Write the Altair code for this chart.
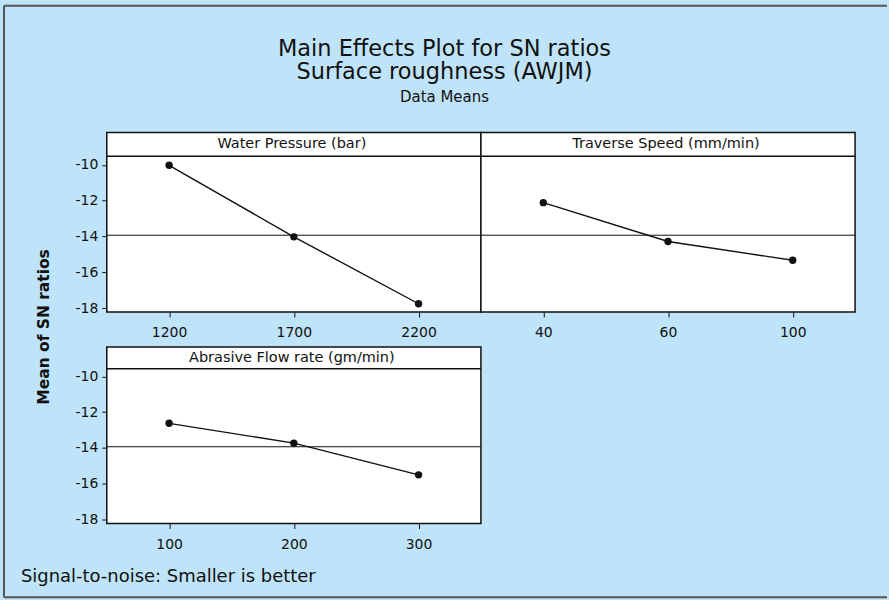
import altair as alt
import pandas as pd

# Main effects of the three AWJM factors on the SN ratio of surface roughness
factor_names = [
    "Water Pressure (bar)",
    "Traverse Speed (mm/min)",
    "Abrasive Flow rate (gm/min)",
]
pressure_levels = [1200, 1700, 2200]
pressure_sn = [-10.02, -14.02, -17.76]
speed_levels = [40, 60, 100]
speed_sn = [-12.11, -14.28, -15.33]
flow_levels = [100, 200, 300]
flow_sn = [-12.62, -13.73, -15.50]
y_ticks = [-10, -12, -14, -16, -18]

title_lines = ["Main Effects Plot for SN ratios", "Surface roughness (AWJM)"]
subtitle_text = "Data Means"
y_title_text = "Mean of SN ratios"
footnote_text = "Signal-to-noise: Smaller is better"

FONT = "DejaVu Sans"
BG = "#bfe3f9"
INK = "#111111"
PANEL_W = 375
PX_PER_UNIT = 17.93
Y_BOTTOM = -18.22

levels_by_factor = [pressure_levels, speed_levels, flow_levels]
sn_by_factor = [pressure_sn, speed_sn, flow_sn]

all_df = pd.concat(
    [
        pd.DataFrame({"factor": name, "level": lv, "sn": sn})
        for name, lv, sn in zip(factor_names, levels_by_factor, sn_by_factor)
    ],
    ignore_index=True,
)

one_row = pd.DataFrame({"k": [0]})


def label_text(text, x, y, size, **kw):
    return alt.Chart(one_row).mark_text(
        font=FONT, fontSize=size, color=INK, baseline="middle", **kw
    ).encode(text=alt.value(text), x=alt.value(x), y=alt.value(y))


def hedge(x, x2, y):
    return alt.Chart(one_row).mark_rule(color="#555555", strokeWidth=2).encode(
        x=alt.value(x), x2=alt.value(x2), y=alt.value(y)
    )


def vedge(x, y, y2):
    return alt.Chart(one_row).mark_rule(color="#555555", strokeWidth=2).encode(
        x=alt.value(x), y=alt.value(y), y2=alt.value(y2)
    )


def panel(idx, height, strip, show_y, extras=()):
    name = factor_names[idx]
    df = all_df[all_df["factor"] == name]
    y_scale = alt.Scale(
        domain=[Y_BOTTOM, Y_BOTTOM + height / PX_PER_UNIT], nice=False, zero=False
    )
    y_axis = (
        alt.Axis(
            values=y_ticks,
            title=None,
            grid=False,
            domain=False,
            tickSize=5,
            tickColor=INK,
            labelPadding=4,
            labelExpr="toString(datum.value)",
        )
        if show_y
        else None
    )
    x_enc = alt.X(
        "level:O",
        scale=alt.Scale(type="point", padding=0.5),
        axis=alt.Axis(
            title=None,
            labelAngle=0,
            grid=False,
            domain=False,
            tickSize=5,
            tickColor=INK,
            labelPadding=9,
        ),
    )
    y_enc = alt.Y("sn:Q", scale=y_scale, axis=y_axis)
    base = alt.Chart(df).encode(x=x_enc, y=y_enc)
    line = base.mark_line(color=INK, strokeWidth=1.4)
    pts = base.mark_point(filled=True, size=55, color=INK, opacity=1)
    grand_mean = alt.Chart(all_df).mark_rule(color=INK, strokeWidth=1).encode(
        y=alt.Y("mean(sn):Q", scale=y_scale, axis=y_axis)
    )
    strip_line = alt.Chart(one_row).mark_rule(color=INK, strokeWidth=1.5).encode(
        x=alt.value(0), x2=alt.value(PANEL_W), y=alt.value(strip)
    )
    strip_label = label_text(name, PANEL_W / 2 - 2, strip / 2, 14.5, align="center")
    return alt.layer(grand_mean, line, pts, strip_line, strip_label, *extras).properties(
        width=PANEL_W, height=height
    )


# page decorations, positioned relative to the first panel
top_extras = [
    hedge(-103, 782, -127),
    vedge(-103, -127, 466),
    hedge(-103, 782, 466),
    label_text(title_lines[0], 338.5, -84, 22.5, align="center"),
    label_text(title_lines[1], 338.5, -60, 22.5, align="center"),
    label_text(subtitle_text, 338.5, -35, 15, align="center"),
    label_text(y_title_text, -63, 195, 15.5, align="center", angle=270, fontWeight="bold"),
]
bottom_extras = [label_text(footnote_text, -86, 231, 18, align="left")]

p1 = panel(0, 180, 24, True, top_extras)
p2 = panel(1, 180, 24, False)
p3 = panel(2, 177, 22, True, bottom_extras)

chart = (
    alt.concat(p1, p2, p3, columns=2, spacing={"row": 35, "column": 0}, bounds="flush")
    .properties(padding={"left": 2, "top": 3, "right": 0, "bottom": 2})
    .configure(background=BG)
    .configure_view(fill="white", stroke=INK, strokeWidth=1.5)
    .configure_axis(labelFont=FONT, labelFontSize=14, labelColor=INK)
)

chart.save("out.html", embed_options={"renderer": "svg", "actions": False})
